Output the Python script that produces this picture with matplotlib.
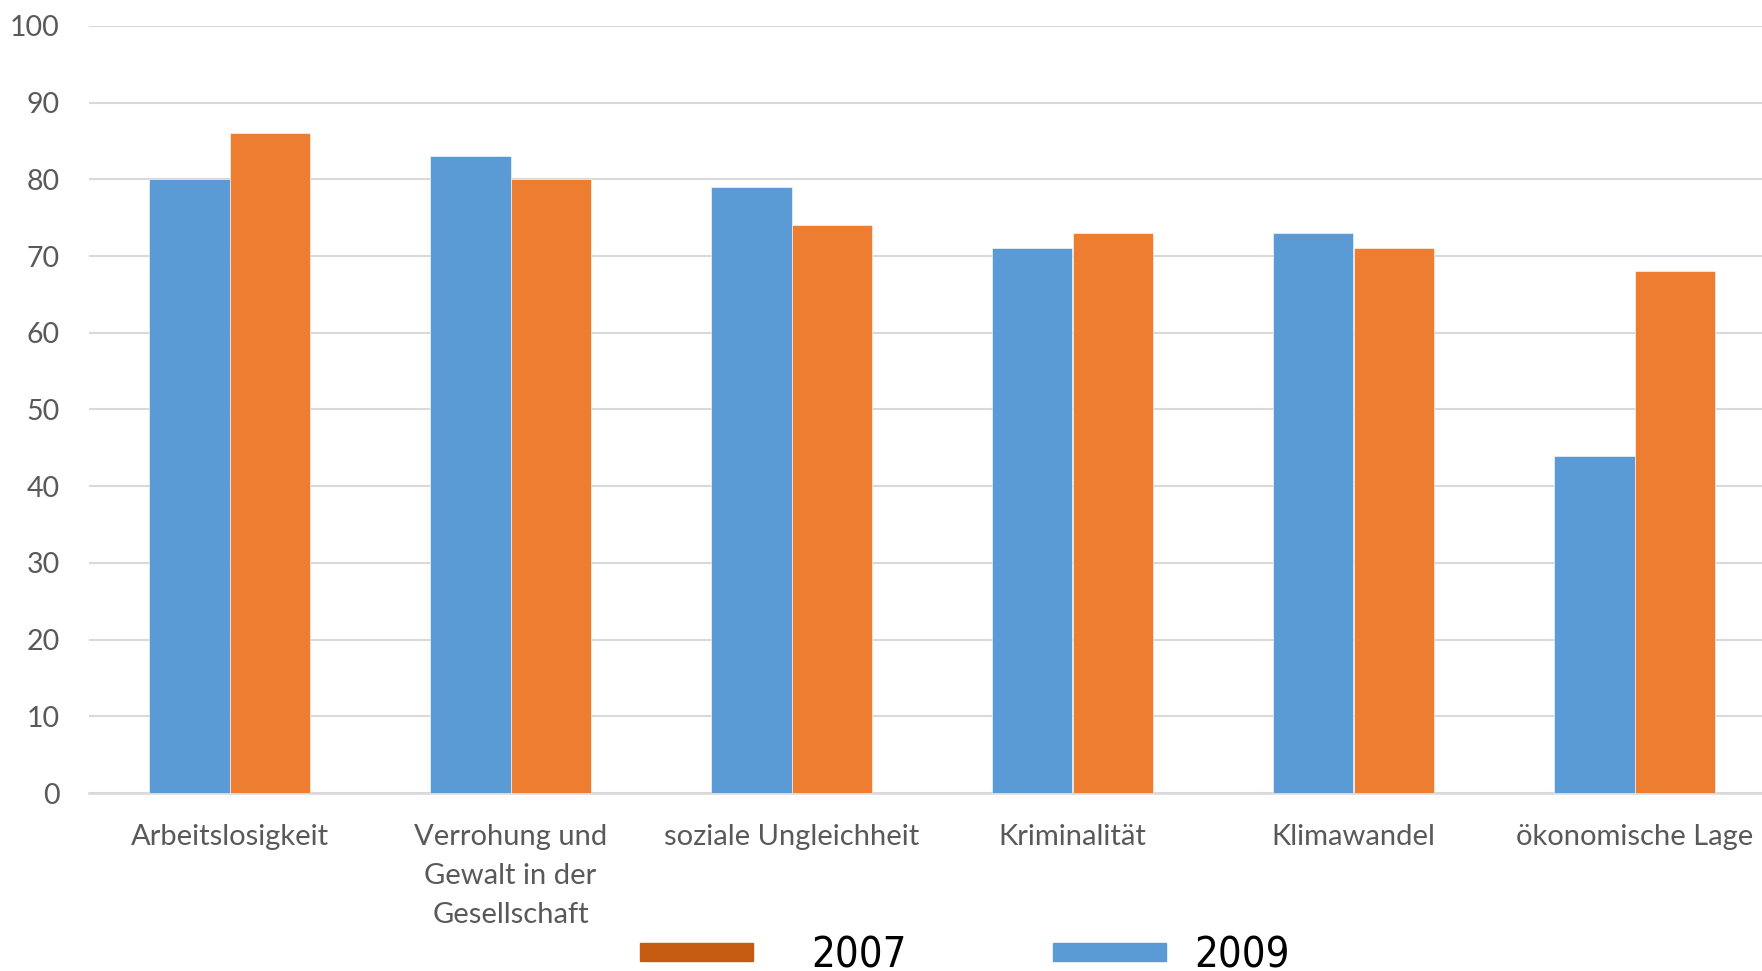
import numpy as np
import matplotlib
matplotlib.use("Agg")
import matplotlib.pyplot as plt
from matplotlib.patches import Patch

# Kategorien und Werte (Angaben in %)
categories = ["Arbeitslosigkeit", "Verrohung und\nGewalt in der\nGesellschaft",
              "soziale Ungleichheit", "Kriminalität", "Klimawandel", "ökonomische Lage"]
values_2009 = [80, 83, 79, 71, 73, 44]
values_2007 = [86, 80, 74, 73, 71, 68]
y_ticks = [0, 10, 20, 30, 40, 50, 60, 70, 80, 90, 100]

blue = "#5B9BD5"
orange = "#ED7D31"
orange_dark = "#C55A11"
grey_text = "#595959"

plt.rcParams["font.family"] = ["Lato", "DejaVu Sans"]

fig = plt.figure(figsize=(17.62, 9.71), dpi=100)
ax = fig.add_axes([89 / 1762, 1 - 793 / 971, 1686 / 1762, 767 / 971])

x = np.arange(len(categories))
w = 0.288
ax.bar(x - w / 2, values_2009, width=w, color=blue, edgecolor="white", linewidth=0.4, zorder=3)
ax.bar(x + w / 2, values_2007, width=w, color=orange, edgecolor="white", linewidth=0.4, zorder=3)

ax.set_xlim(-0.5, len(categories) - 0.5)
ax.set_ylim(0, 100)
ax.set_yticks(y_ticks)
ax.set_xticks(x)
ax.set_xticklabels(categories, linespacing=1.62)

ax.yaxis.grid(True, color="#D9D9D9", linewidth=1.5, zorder=0)
ax.set_axisbelow(True)
for side in ["top", "right", "left"]:
    ax.spines[side].set_visible(False)
ax.spines["bottom"].set_color("#D9D9D9")
ax.spines["bottom"].set_linewidth(1.8)
ax.tick_params(axis="y", length=0, labelsize=20.5, labelcolor=grey_text, pad=21)
ax.tick_params(axis="x", length=0, labelsize=21, labelcolor=grey_text, pad=22)

# Legende unten, zwei Einträge mit unterschiedlichem Abstand
fs = 30
legend_font = {"family": "DejaVu Sans", "stretch": "condensed", "size": fs}
leg_kw = dict(loc="center left", frameon=False, borderpad=0, borderaxespad=0,
              handlelength=81 / fs, handleheight=9.4 / fs, prop=legend_font)
leg1 = fig.legend(handles=[Patch(color=orange_dark, label="2007")],
                  bbox_to_anchor=(640 / 1762, 1 - 955 / 971), handletextpad=42 / fs, **leg_kw)
fig.legend(handles=[Patch(color=blue, label="2009")],
           bbox_to_anchor=(1053 / 1762, 1 - 955 / 971), handletextpad=21 / fs, **leg_kw)

fig.savefig("out.png", dpi=100)
